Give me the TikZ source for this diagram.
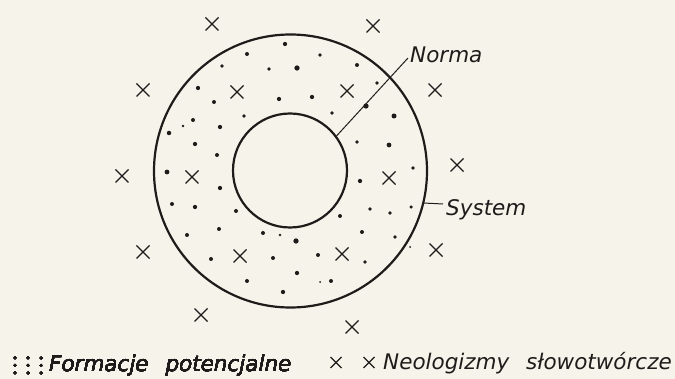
\documentclass[tikz,border=0pt]{standalone}
\usepackage{fontspec}
\newfontfamily\lblfont{DejaVu Sans}
\definecolor{paper}{RGB}{246,243,234}
\definecolor{ink}{RGB}{30,28,26}
\tikzset{
  ring/.style={draw=ink, line width=2.2pt},
  lead/.style={draw=ink, line width=1pt},
  lbl/.style={inner sep=0pt, font=\lblfont\itshape\fontsize{21.5}{24}\selectfont, text=ink},
  pdot/.style={fill=ink, draw=none},
  xmark/.style={draw=ink, line width=1.3pt}
}
\newcommand{\crossat}[3]{\draw[xmark] (#1-#3,#2-#3) -- (#1+#3,#2+#3) (#1-#3,#2+#3) -- (#1+#3,#2-#3);}
\begin{document}
\begin{tikzpicture}[x=1pt,y=-1pt]
\fill[paper] (0,0) rectangle (675,379);
\useasboundingbox (0,0) rectangle (675,379);
% circles
\node[ring, circle, minimum size=273pt, inner sep=0pt] (sys) at (290.5,171) {};
\node[ring, circle, minimum size=114pt, inner sep=0pt] (norm) at (290,170.5) {};
% labels
\node[lbl, anchor=base west] (normalbl) at (410,62.5) {Norma};
\node[lbl, anchor=base west] (syslbl) at (446,215.5) {System};
\coordinate (na) at (336.5,136);
\coordinate (nb) at (408,58);
\draw[lead] (na) -- (nb);
\coordinate (sa) at (423.5,203);
\coordinate (sb) at (443,204);
\draw[lead] (sa) -- (sb);
% dots (potential formations)
\foreach \x/\y/\r in {
285/44/1.7, 247/54/1.6, 320/55/1.5, 222/66/1.5, 269/69/1.5, 297/68/2.1, 357/65/1.6,
198/88/1.7, 377/83/1.5, 214/102/1.6, 279/99/1.7, 312/97/1.7, 366/106/2.1, 332/113/1.5,
394/116/2.0, 193/120/1.6, 183/126/1.1, 244/116/1.5, 220/127/1.7, 169/133/1.8, 195/144/1.7,
217/155/1.6, 357/142/1.5, 389/145/1.9, 413/168/1.5, 167/172/1.9, 220/188/1.7, 360/181/1.7,
172/204/1.6, 195/207/1.7, 236/211/1.6, 370/209/1.5, 390/213/1.5, 411/207/1.4, 340/216/1.6,
187/235/1.6, 219/229/1.6, 263/233/1.6, 280/235/1.1, 296/241/2.1, 362/232/1.6, 395/237/1.5,
211/259/1.6, 273/258/1.6, 318/255/1.6, 365/262/1.5, 297/273/1.7, 247/281/1.6, 331/281/1.6,
320/282/0.8, 283/292/1.7, 410/247/0.8}
  \fill[pdot] (\x,\y) circle ({1.25*\r});
% crosses (neologisms)
\foreach \x/\y in {212/24, 373/26, 143/90, 237/92, 347/91, 435/90, 122/176, 192/177,
389/178, 457/165, 143/252, 240/256, 342/254, 436/250, 201/315, 352/327}
  \crossat{\x}{\y}{6.5}
% legend
\foreach \x in {15,28,41}{
  \fill[pdot] (\x,358) circle (1.5);
  \fill[pdot] (\x,365.5) circle (1.5);
  \fill[pdot] (\x,373) circle (1.5);
}
\node[lbl, anchor=base west] (leg1) at (49,371) {Formacje\hspace{10pt} potencjalne};
\crossat{336}{362.5}{5.5}
\crossat{369}{362.5}{5.5}
\node[lbl, anchor=base west] (leg2) at (383,369.5) {Neologizmy\hspace{10pt} słowotwórcze};
\end{tikzpicture}
\end{document}
